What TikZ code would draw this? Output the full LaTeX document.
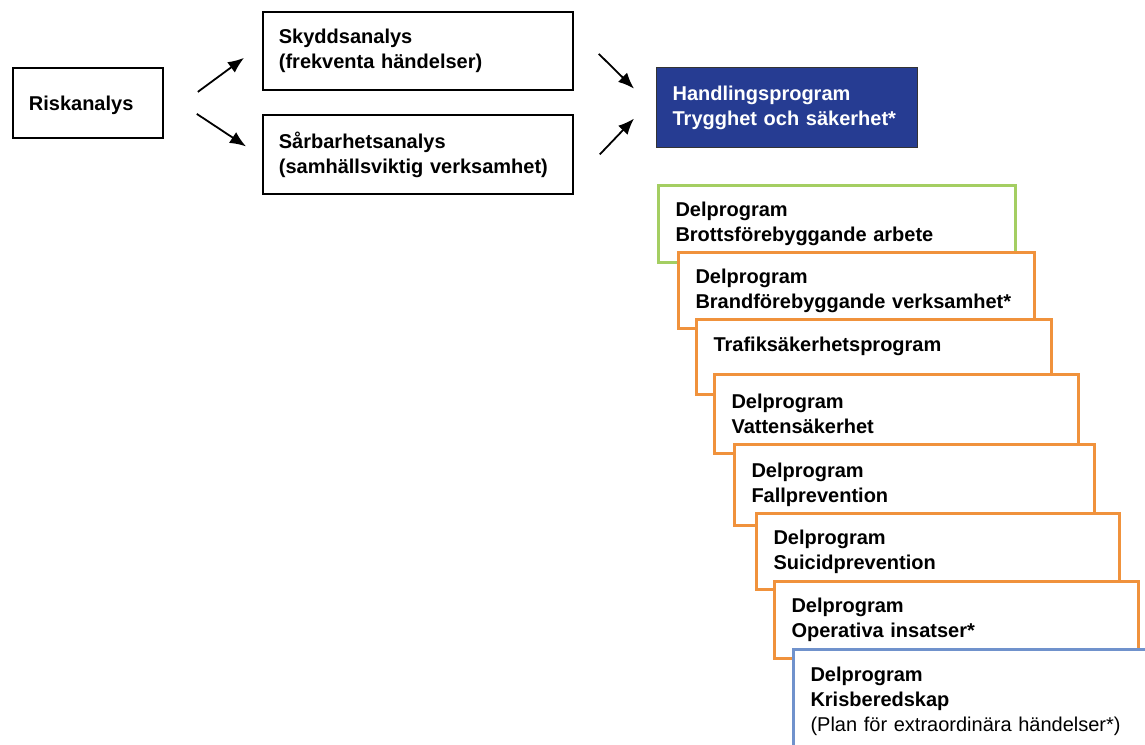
\documentclass[tikz,border=0pt]{standalone}
\usepackage{fontspec}
\setmainfont{Liberation Sans}
\usetikzlibrary{arrows.meta}
\definecolor{hpblue}{RGB}{38,60,146}
\definecolor{dpgreen}{RGB}{164,206,98}
\definecolor{dporange}{RGB}{240,146,60}
\definecolor{dpblue}{RGB}{112,146,204}
\begin{document}
\begin{tikzpicture}[x=1pt,y=-1pt,>={Latex[length=16pt,width=13pt]},
    every node/.style={font=\fontsize{20}{25}\selectfont\bfseries},
    box/.style={draw,line width=1.8pt,anchor=north west,align=left,inner xsep=16pt,inner ysep=0pt},
    dbox/.style={box,fill=white,line width=3pt,draw=dporange,inner xsep=17pt},
    arr/.style={->,line width=1.8pt}]
    \clip (0,0) rectangle (1145,744);
    % analyser
    \node[box,text width=118pt,minimum height=70,text height=14.5pt,text depth=0pt] (risk) at (12,67) {Riskanalys};
    \node[box,text width=278pt,minimum height=78] (skydd) at (262,11) {Skyddsanalys\\(frekventa händelser)};
    \node[box,text width=278pt,minimum height=79] (sarb) at (262,114) {Sårbarhetsanalys\\(samhällsviktig verksamhet)};
    \node[box,fill=hpblue,draw=black!80,line width=1.2pt,text=white,text width=229pt,minimum height=80] (handl) at (656,67) {Handlingsprogram\\Trygghet och säkerhet*};
    \draw[arr] ([shift={(34,-11)}]risk.east) -- ([shift={(-18,7)}]skydd.west);
    \draw[arr] ([shift={(33,11)}]risk.east) -- ([shift={(-16,-8)}]sarb.west);
    \draw[arr] ([shift={(25,3)}]skydd.east) -- ([shift={(-22,-19)}]handl.west);
    \draw[arr] ([shift={(26,0)}]sarb.east) -- ([shift={(-22,11)}]handl.west);
    % delprogram
    \node[dbox,draw=dpgreen,text width=323pt,minimum height=77] (brott) at (657,184) {Delprogram\\Brottsförebyggande arbete};
    \node[dbox,text width=322pt,minimum height=76] (brand) at (677,251) {Delprogram\\Brandförebyggande verksamhet*};
    \node[dbox,text width=321pt,minimum height=75,text height=14.5pt,text depth=25.5pt] (trafik) at (695,318) {Trafiksäkerhetsprogram};
    \node[dbox,text width=330pt,minimum height=79] (vatten) at (713,373) {Delprogram\\Vattensäkerhet};
    \node[dbox,text width=326pt,minimum height=81] (fall) at (733,443) {Delprogram\\Fallprevention};
    \node[dbox,text width=329pt,minimum height=76] (suicid) at (755,512) {Delprogram\\Suicidprevention};
    \node[dbox,text width=330pt,minimum height=77] (oper) at (773,580) {Delprogram\\Operativa insatser*};
    \node[dbox,draw=dpblue,text width=336pt,minimum height=104] (kris) at (792,648) {Delprogram\\Krisberedskap\\{\mdseries (Plan för extraordinära händelser*)}};
\end{tikzpicture}
\end{document}
